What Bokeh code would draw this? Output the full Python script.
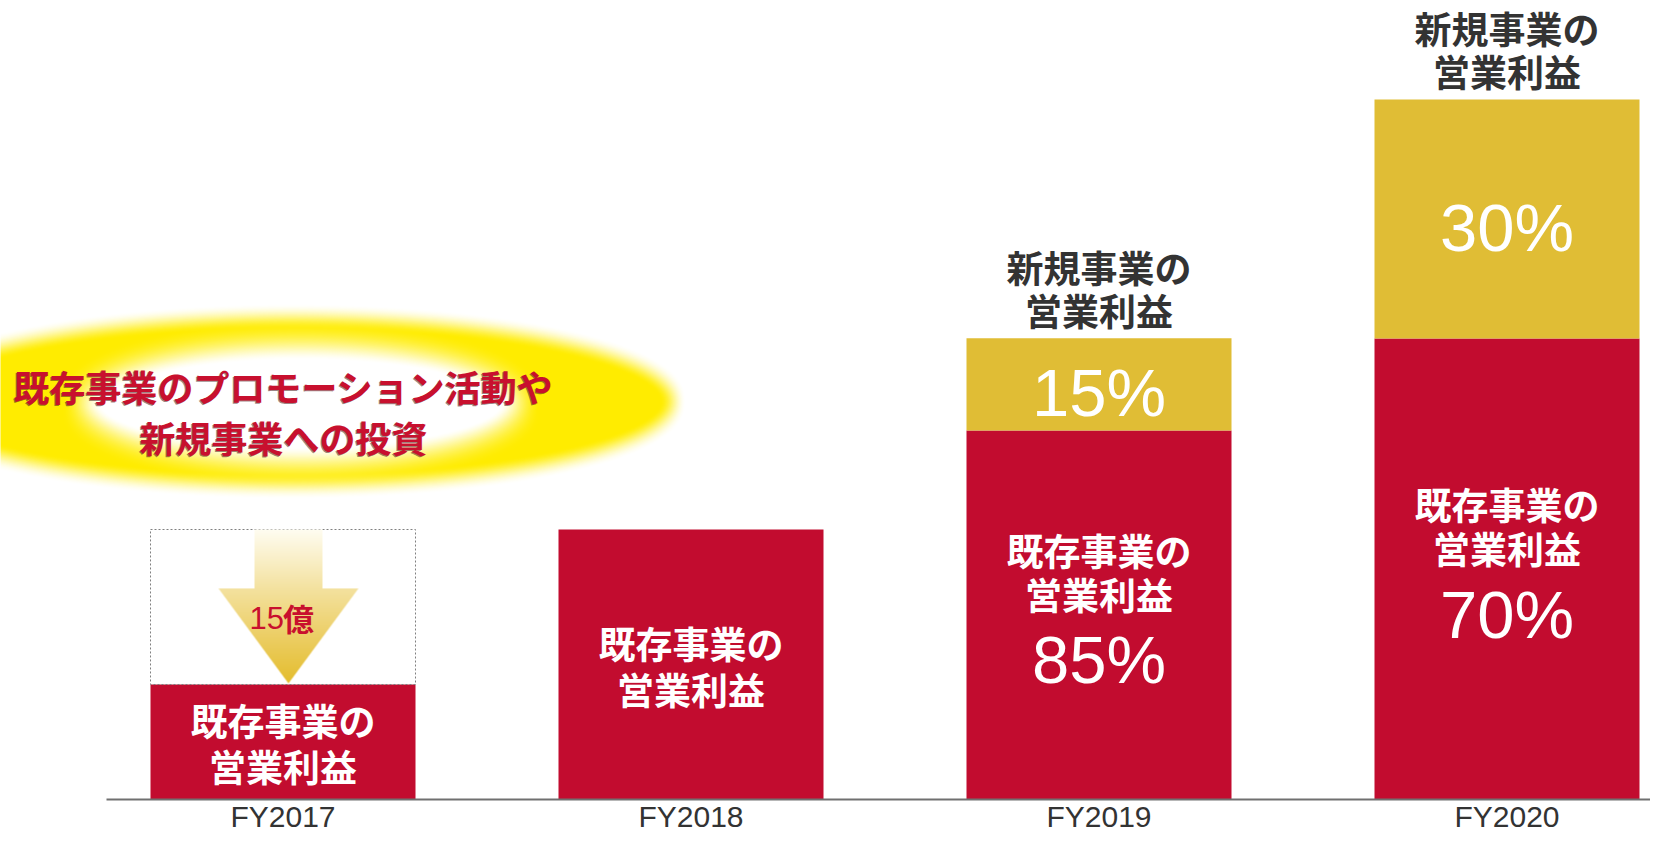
import numpy as np
from bokeh.plotting import figure
from bokeh.models import Range1d, FixedTicker, ColumnDataSource
from bokeh.core.properties import value
from bokeh.embed import file_html
from bokeh.resources import INLINE

# ---------------- data ----------------
years = ["FY2017", "FY2018", "FY2019", "FY2020"]
existing_profit = [42.6, 100.0, 136.7, 170.7]   # relative scale, FY2018 = 100
new_profit = [0.0, 0.0, 34.1, 88.6]
investment = [57.4, 0.0, 0.0, 0.0]
existing_share = ["", "", "85%", "70%"]
new_share = ["", "", "15%", "30%"]
existing_label = ["既存事業の", "営業利益"]
new_label = ["新規事業の", "営業利益"]
investment_amount = "15"
investment_unit = "億"
callout_lines = ["既存事業のプロモーション活動や", "新規事業への投資"]

# ---------------- style / layout ----------------
RED = "#C20C2F"
GOLD = "#E0BD35"
DARK = "#333333"
CALLOUT_RED = "#C8102E"
CJK = "Noto Sans CJK JP"
LATIN = "Liberation Sans"

W, H = 1650, 833
BASE_PX = 799         # pixel row of the zero line inside the canvas
PX_X = 408.0          # pixels per category step
PX_Y = 2.7            # pixels per value unit
X0_PX = 282.5         # pixel position of first category centre
BAR_W = 265 / PX_X


def dx(px):
    return px / PX_X


def dy(px):
    return px / PX_Y


x_start = -X0_PX / PX_X
p = figure(width=W, height=H,
           x_range=Range1d(x_start, x_start + W / PX_X),
           y_range=Range1d(-dy(H - BASE_PX), dy(BASE_PX)),
           output_backend="svg", toolbar_location=None, tools="",
           y_axis_location=None, min_border=0,
           outline_line_color=None, background_fill_color="white",
           border_fill_color="white")
p.xgrid.visible = False
p.ygrid.visible = False

xs = list(range(len(years)))

# ---------------- glow behind the callout ----------------
CALLOUT_X = 0 + dx(0.5)
CALLOUT_Y = dy(388)
gw, gh = 720, 230
gl, gt = -310, -115
yy, xx = np.mgrid[0:gh, 0:gw].astype(float)
xx = xx + 0.5 + gl
yy = yy + 0.5 + gt


def soft_inside(xr, yr, cx, cy, rx, ry, blur):
    ddx, ddy = xr - cx, yr - cy
    f = (ddx / rx) ** 2 + (ddy / ry) ** 2 - 1
    g = 2 * np.sqrt(ddx ** 2 / rx ** 4 + ddy ** 2 / ry ** 4)
    sd = f / np.maximum(g, 1e-6)
    t = np.clip((sd + blur) / (2 * blur), 0, 1)
    s = t * t * (3 - 2 * t)
    return 1 - s


a_out = soft_inside(xx, yy, 7.5, -10, 382, 84, 13)
a_in = soft_inside(xx, yy, 17.5, -8, 218, 60, 20)
alpha = a_out * (1 - a_in)
glow = np.zeros((gh, gw, 4), dtype=np.uint8)
glow[..., 0] = 255
glow[..., 1] = 236
glow[..., 2] = 0
glow[..., 3] = np.round(alpha * 255).astype(np.uint8)
glow = glow[::-1].copy()
p.image_rgba(image=[glow.view(np.uint32).reshape(gh, gw)],
             x=CALLOUT_X + dx(gl), y=CALLOUT_Y - dy(gh + gt),
             dw=dx(gw), dh=dy(gh))

# ---------------- bars ----------------
p.vbar(x=xs, bottom=0, top=existing_profit, width=BAR_W,
       fill_color=RED, line_color=None)
nb_x = [x for x, n in zip(xs, new_profit) if n > 0]
nb_b = [e for e, n in zip(existing_profit, new_profit) if n > 0]
nb_t = [e + n for e, n in zip(existing_profit, new_profit) if n > 0]
p.vbar(x=nb_x, bottom=nb_b, top=nb_t, width=BAR_W,
       fill_color=GOLD, line_color=None)

# dashed box for the investment gap
iv = [i for i, v in enumerate(investment) if v > 0]
p.quad(left=[xs[i] - BAR_W / 2 for i in iv], right=[xs[i] + BAR_W / 2 for i in iv],
       bottom=[existing_profit[i] for i in iv],
       top=[existing_profit[i] + investment[i] for i in iv],
       fill_color=None, line_color="#808080", line_width=1, line_dash="2 2")


# arrow image
def arrow_rgba(w_px, h_px, shaft_half, head_half, head_start):
    ss = 4
    ys = (np.arange(h_px * ss) + 0.5) / ss
    xa = (np.arange(w_px * ss) + 0.5) / ss - w_px / 2
    X, Y = np.meshgrid(xa, ys)
    tip = float(h_px)
    shaft = (np.abs(X) <= shaft_half) & (Y < head_start)
    head = (Y >= head_start) & (np.abs(X) <= head_half * (tip - Y) / (tip - head_start))
    mask = (shaft | head).astype(float)
    cov = mask.reshape(h_px, ss, w_px, ss).mean(axis=(1, 3))
    t = (np.arange(h_px) + 0.5) / h_px
    st = [0, head_start / h_px, 0.7, 1]
    r = np.interp(t, st, [255, 244, 236, 228])
    g = np.interp(t, st, [253, 226, 206, 189])
    b = np.interp(t, st, [242, 160, 100, 45])
    img = np.zeros((h_px, w_px, 4), dtype=np.uint8)
    img[..., 0] = r[:, None]
    img[..., 1] = g[:, None]
    img[..., 2] = b[:, None]
    img[..., 3] = np.round(cov * 255).astype(np.uint8)
    return img[::-1].copy()


for i in iv:
    gap_px = int(round(investment[i] * PX_Y)) - 1
    aw = 140
    arr = arrow_rgba(aw, gap_px, 34, 70, 59)
    p.image_rgba(image=[arr.view(np.uint32).reshape(gap_px, aw)],
                 x=xs[i] + dx(5.5) - dx(aw / 2), y=existing_profit[i] + dy(1),
                 dw=dx(aw), dh=dy(gap_px))
    top = existing_profit[i] + investment[i]
    p.text(x=[xs[i] + dx(1)], y=[top - dy(88)], text=[investment_amount],
           text_font=value(LATIN), text_font_size="31px", text_color=CALLOUT_RED,
           text_align="right", text_baseline="middle")
    p.text(x=[xs[i]], y=[top - dy(88)], text=[investment_unit],
           text_font=value(CJK), text_font_style="bold", text_font_size="31px",
           text_color=CALLOUT_RED, text_align="left", text_baseline="middle")

# ---------------- bar labels ----------------
white = dict(x=[], y=[], text=[])
dark = dict(x=[], y=[], text=[])
pct = dict(x=[], y=[], text=[])
for i in xs:
    e, n = existing_profit[i], new_profit[i]
    c = e / 2
    if n > 0:
        white["x"] += [i, i]
        white["y"] += [c + dy(65), c + dy(21)]
        white["text"] += existing_label
        pct["x"].append(i); pct["y"].append(c - dy(45)); pct["text"].append(existing_share[i])
        g = e + n / 2
        pct["x"].append(i); pct["y"].append(g - dy(8)); pct["text"].append(new_share[i])
        top = e + n
        dark["x"] += [i, i]
        dark["y"] += [top + dy(71), top + dy(28)]
        dark["text"] += new_label
    else:
        white["x"] += [i, i]
        white["y"] += [c + dy(22), c - dy(24)]
        white["text"] += existing_label

p.text(x="x", y="y", text="text", source=ColumnDataSource(white),
       text_font=value(CJK), text_font_style="bold", text_font_size="37px",
       text_color="white", text_align="center", text_baseline="middle")
p.text(x="x", y="y", text="text", source=ColumnDataSource(dark),
       text_font=value(CJK), text_font_style="bold", text_font_size="37px",
       text_color=DARK, text_align="center", text_baseline="middle")
p.text(x="x", y="y", text="text", source=ColumnDataSource(pct),
       text_font=value(LATIN), text_font_size="67px",
       text_color="white", text_align="center", text_baseline="middle")

# ---------------- callout text ----------------
cy = [CALLOUT_Y + dy(25.5), CALLOUT_Y - dy(25.5)]
p.text(x=[CALLOUT_X - dx(1.2)] * 2, y=[v - dy(1.2) for v in cy], text=callout_lines,
       text_font=value(CJK), text_font_style="bold", text_font_size="36px",
       text_color="#4a1a1a", text_alpha=0.55, text_align="center", text_baseline="middle")
p.text(x=[CALLOUT_X] * 2, y=cy, text=callout_lines,
       text_font=value(CJK), text_font_style="bold", text_font_size="36px",
       text_color=CALLOUT_RED, text_align="center", text_baseline="middle")

# ---------------- axis (drawn at the zero line, labels below it) ----------------
ax = p.xaxis[0]
ax.fixed_location = 0
ax.ticker = FixedTicker(ticks=xs)
ax.major_label_overrides = {i: y for i, y in enumerate(years)}
ax.bounds = (x_start + dx(106), x_start + W / PX_X + 1)
ax.major_tick_in = 0
ax.major_tick_out = 0
ax.minor_tick_in = 0
ax.minor_tick_out = 0
ax.major_tick_line_color = None
ax.minor_tick_line_color = None
ax.axis_line_color = "#707070"
ax.axis_line_width = 2
ax.major_label_standoff = 0
ax.major_label_text_line_height = 1.0
ax.major_label_text_font = LATIN
ax.major_label_text_font_size = "30px"
ax.major_label_text_color = DARK

open("out.html", "w").write(file_html(p, INLINE))
